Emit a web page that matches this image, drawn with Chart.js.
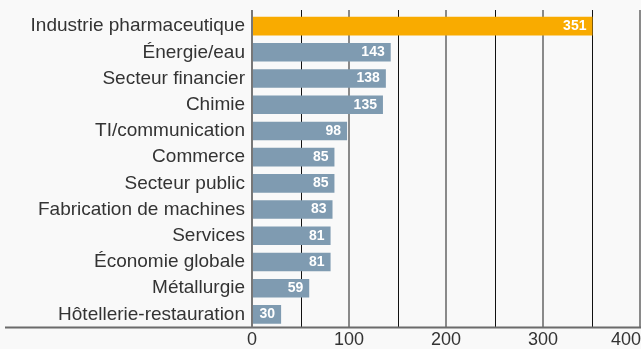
<!DOCTYPE html>
<html lang="fr">
<head>
  <meta charset="UTF-8">
  <title>Secteurs</title>
  <script src="https://cdn.jsdelivr.net/npm/chart.js"></script>
  <style>
    body { margin: 0; background: #f9f9f9; }
    #wrap { width: 641px; height: 349px; position: relative; }
  </style>
</head>
<body>
  <div id="wrap"><canvas id="secteurs"></canvas></div>
  <script>
    const secteurs = ['Industrie pharmaceutique', 'Énergie/eau', 'Secteur financier', 'Chimie',
      'TI/communication', 'Commerce', 'Secteur public', 'Fabrication de machines', 'Services',
      'Économie globale', 'Métallurgie', 'Hôtellerie-restauration'];
    const valeurs = [351, 143, 138, 135, 98, 85, 85, 83, 81, 81, 59, 30];
    const graduations = [0, 100, 200, 300, 400];
    const quadrillage = [0, 50, 100, 150, 200, 250, 300, 350, 400];

    const ORANGE = '#f9ab00';
    const BLEU = '#7f9bb1';
    const FONT = '"Liberation Sans", Arial, sans-serif';

    // quadrillage vertical, axe du bas, graduations et valeurs dans les barres
    const habillage = {
      id: 'habillage',
      beforeDatasetsDraw(chart) {
        const ctx = chart.ctx;
        const x = chart.scales.x;
        const area = chart.chartArea;
        ctx.save();
        quadrillage.forEach(v => {
          const major = v % 100 === 0;
          const px = Math.round(x.getPixelForValue(v)) + (major ? 0 : 0.5);
          ctx.strokeStyle = major ? '#8a8a8a' : '#111';
          ctx.lineWidth = major ? 2 : 1;
          ctx.beginPath();
          ctx.moveTo(px, 10);
          ctx.lineTo(px, area.bottom);
          ctx.stroke();
        });
        ctx.restore();
      },
      afterDatasetsDraw(chart) {
        const ctx = chart.ctx;
        const x = chart.scales.x;
        const area = chart.chartArea;
        ctx.save();
        ctx.font = 'bold 14px ' + FONT;
        ctx.fillStyle = '#fff';
        ctx.textAlign = 'right';
        ctx.textBaseline = 'middle';
        chart.getDatasetMeta(0).data.forEach((bar, i) => {
          ctx.fillText(valeurs[i], bar.x - 6, bar.y);
        });
        ctx.strokeStyle = '#6b6b6b';
        ctx.lineWidth = 2;
        ctx.beginPath();
        ctx.moveTo(5, area.bottom);
        ctx.lineTo(chart.width, area.bottom);
        ctx.stroke();
        ctx.strokeStyle = '#777';
        ctx.beginPath();
        ctx.moveTo(x.getPixelForValue(0), 10);
        ctx.lineTo(x.getPixelForValue(0), area.bottom);
        ctx.stroke();
        ctx.font = '18px ' + FONT;
        ctx.fillStyle = '#333';
        ctx.textBaseline = 'top';
        graduations.forEach((v, i) => {
          const last = i === graduations.length - 1;
          ctx.textAlign = last ? 'right' : 'center';
          ctx.fillText(v, last ? chart.width : x.getPixelForValue(v), area.bottom + 4);
        });
        ctx.restore();
      }
    };

    new Chart(document.getElementById('secteurs'), {
      type: 'bar',
      data: {
        labels: secteurs,
        datasets: [{
          data: valeurs,
          backgroundColor: valeurs.map((v, i) => i === 0 ? ORANGE : BLEU),
          barPercentage: 0.71,
          categoryPercentage: 1
        }]
      },
      options: {
        indexAxis: 'y',
        responsive: true,
        maintainAspectRatio: false,
        animation: false,
        layout: { padding: { top: 13, right: 1, bottom: 0, left: 0 } },
        plugins: { legend: { display: false }, tooltip: { enabled: false } },
        scales: {
          x: {
            min: 0,
            max: 400,
            ticks: { display: false },
            border: { display: false },
            grid: { display: false },
            afterFit: s => { s.height = 21.5; s.paddingLeft = 0; s.paddingRight = 0; }
          },
          y: {
            grid: { display: false, drawTicks: false },
            border: { display: false },
            ticks: { color: '#333', font: { size: 19, family: FONT }, padding: 7 },
            afterFit: s => { s.width = 252; s.paddingTop = 0; s.paddingBottom = 0; }
          }
        }
      },
      plugins: [habillage]
    });
  </script>
</body>
</html>
